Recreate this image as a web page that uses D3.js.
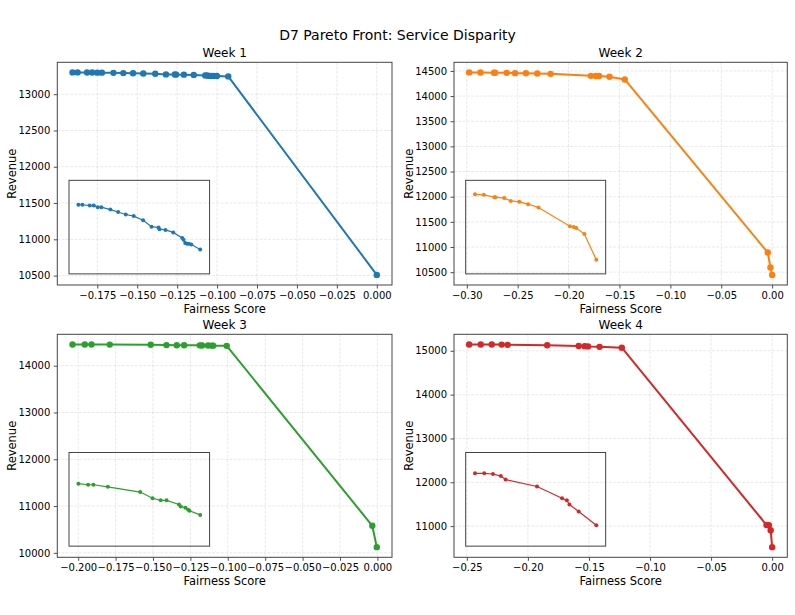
<!DOCTYPE html>
<html>
<head>
<meta charset="utf-8">
<script src="https://cdn.jsdelivr.net/npm/d3@7"></script>
<style>
  body { margin: 0; background: #fff; }
  text { font-family: "DejaVu Sans", sans-serif; fill: #000; }
</style>
</head>
<body>
<svg id="chart" width="795" height="615"></svg>
<script>
// ---------------- DATA ----------------
const weekTitles = ["Week 1", "Week 2", "Week 3", "Week 4"];
const seriesColors = ["#1f77b4", "#ff7f0e", "#2ca02c", "#d62728"];

const week1X = [-0.1905, -0.1873, -0.1814, -0.1782, -0.1750, -0.1721, -0.1649, -0.1587, -0.1526, -0.1462,
                -0.1387, -0.1320, -0.1264, -0.1256, -0.1208, -0.1146, -0.1074, -0.1063, -0.1050, -0.1036,
                -0.1021, -0.1001, -0.0930, 0.0000];
const week1Y = [13300, 13300, 13299, 13299, 13297, 13297, 13294, 13291, 13288, 13286,
                13281, 13273, 13272, 13270, 13269, 13266, 13259, 13257, 13253, 13252,
                13252, 13251, 13245, 10510];

const week2X = [-0.2977, -0.2866, -0.2732, -0.2722, -0.2608, -0.2526, -0.2419, -0.2308, -0.2177,
                -0.1781, -0.1732, -0.1700, -0.1598, -0.1448, -0.0043, -0.0017, 0.0000];
const week2Y = [14470, 14469, 14464, 14464, 14462, 14456, 14454, 14449, 14442,
                14402, 14400, 14398, 14385, 14330, 10890, 10592, 10446];

const week3X = [-0.2038, -0.1956, -0.1911, -0.1789, -0.1515, -0.1410, -0.1341, -0.1292, -0.1187,
                -0.1172, -0.1132, -0.1109, -0.1098, -0.1007, -0.0034, -0.0004];
const week3Y = [14455, 14454, 14454, 14452, 14447, 14441, 14439, 14439, 14435,
                14433, 14432, 14430, 14429, 14425, 10578, 10121];

const week4X = [-0.2481, -0.2386, -0.2296, -0.2215, -0.2166, -0.1842, -0.1584, -0.1535, -0.1508,
                -0.1413, -0.1231, -0.0046, -0.0027, -0.0012, 0.0000];
const week4Y = [15145, 15145, 15144, 15141, 15136, 15126, 15109, 15106, 15100,
                15090, 15070, 11025, 11020, 10905, 10520];

const xTicks = [
  [-0.175, -0.150, -0.125, -0.100, -0.075, -0.050, -0.025, 0.000],
  [-0.30, -0.25, -0.20, -0.15, -0.10, -0.05, 0.00],
  [-0.200, -0.175, -0.150, -0.125, -0.100, -0.075, -0.050, -0.025, 0.000],
  [-0.25, -0.20, -0.15, -0.10, -0.05, 0.00]
];
const xTickDecimals = [3, 2, 3, 2];
const yTicks = [
  [10500, 11000, 11500, 12000, 12500, 13000],
  [10500, 11000, 11500, 12000, 12500, 13000, 13500, 14000, 14500],
  [10000, 11000, 12000, 13000, 14000],
  [11000, 12000, 13000, 14000, 15000]
];
const insetCutoff = -0.05;   // points left of this are shown in the inset

const suptitle = "D7 Pareto Front: Service Disparity";
const xLabel = "Fairness Score";
const yLabel = "Revenue";

// ---------------- LAYOUT ----------------
const svg = d3.select("#chart");
const weeksX = [week1X, week2X, week3X, week4X];
const weeksY = [week1Y, week2Y, week3Y, week4Y];
const boxes = [
  {left: 57.3, right: 392.0, top: 62.3, bottom: 285.0},
  {left: 454.0, right: 787.3, top: 62.3, bottom: 285.0},
  {left: 57.3, right: 392.0, top: 334.3, bottom: 557.3},
  {left: 454.0, right: 787.3, top: 334.3, bottom: 557.3}
];

svg.append("text")
  .attr("x", 397.5).attr("y", 40)
  .attr("text-anchor", "middle")
  .style("font-size", "14px")
  .text(suptitle);

const minus = s => s.replace(/-/g, "\u2212");

function padded(ext, frac) {
  const r = ext[1] - ext[0];
  return [ext[0] - r * frac, ext[1] + r * frac];
}

weeksX.forEach((xs, i) => {
  const ys = weeksY[i];
  const b = boxes[i];
  const color = seriesColors[i];
  const pts = xs.map((x, j) => ({x, y: ys[j]}));

  const x = d3.scaleLinear().domain(padded(d3.extent(xs), 0.05)).range([b.left, b.right]);
  const y = d3.scaleLinear().domain(padded(d3.extent(ys), 0.05)).range([b.bottom, b.top]);

  const g = svg.append("g");

  // grid
  g.append("g").selectAll("line").data(xTicks[i]).join("line")
    .attr("x1", d => x(d)).attr("x2", d => x(d))
    .attr("y1", b.top).attr("y2", b.bottom)
    .attr("stroke", "#b0b0b0").attr("stroke-opacity", 0.35)
    .attr("stroke-width", 0.8).attr("stroke-dasharray", "3,1.3");
  g.append("g").selectAll("line").data(yTicks[i]).join("line")
    .attr("x1", b.left).attr("x2", b.right)
    .attr("y1", d => y(d)).attr("y2", d => y(d))
    .attr("stroke", "#b0b0b0").attr("stroke-opacity", 0.35)
    .attr("stroke-width", 0.8).attr("stroke-dasharray", "3,1.3");

  // axes
  const fmtX = d => minus(d.toFixed(xTickDecimals[i]));
  const xAxis = d3.axisBottom(x).tickValues(xTicks[i]).tickFormat(fmtX)
    .tickSize(3.5).tickPadding(3.5);
  const yAxis = d3.axisLeft(y).tickValues(yTicks[i]).tickFormat(d => String(d))
    .tickSize(3.5).tickPadding(3.5);

  const gx = g.append("g").attr("transform", `translate(0,${b.bottom})`).call(xAxis);
  const gy = g.append("g").attr("transform", `translate(${b.left},0)`).call(yAxis);
  [gx, gy].forEach(a => {
    a.select(".domain").remove();
    a.selectAll(".tick line").attr("stroke", "#222").attr("stroke-width", 0.8);
    a.selectAll(".tick text").style("font-size", "10px").style("font-family", "DejaVu Sans, sans-serif").attr("fill", "#000");
  });

  // main line and markers
  const line = d3.line().x(d => x(d.x)).y(d => y(d.y));
  g.append("path").datum(pts)
    .attr("d", line).attr("fill", "none")
    .attr("stroke", color).attr("stroke-width", 2).attr("stroke-linejoin", "round");
  g.append("g").selectAll("circle").data(pts).join("circle")
    .attr("cx", d => x(d.x)).attr("cy", d => y(d.y)).attr("r", 3.2)
    .attr("fill", color);

  // frame
  g.append("rect")
    .attr("x", b.left).attr("y", b.top)
    .attr("width", b.right - b.left).attr("height", b.bottom - b.top)
    .attr("fill", "none").attr("stroke", "#444").attr("stroke-width", 1);

  // titles / labels
  g.append("text")
    .attr("x", (b.left + b.right) / 2).attr("y", b.top - 5.5)
    .attr("text-anchor", "middle").style("font-size", "12px")
    .text(weekTitles[i]);
  g.append("text")
    .attr("x", (b.left + b.right) / 2).attr("y", b.bottom + 27.5)
    .attr("text-anchor", "middle").style("font-size", "11.5px")
    .text(xLabel);
  g.append("text")
    .attr("transform", `translate(${b.left - 41.5},${(b.top + b.bottom) / 2}) rotate(-90)`)
    .attr("text-anchor", "middle").style("font-size", "11.5px")
    .text(yLabel);

  // inset
  const W = b.right - b.left, H = b.bottom - b.top;
  const ib = {
    left: b.left + 0.035 * W,
    right: b.left + 0.035 * W + 0.42 * W,
    bottom: b.bottom - 0.05 * H,
    top: b.bottom - 0.05 * H - 0.42 * H
  };
  const ipts = pts.filter(d => d.x < insetCutoff);
  const ixe = d3.extent(ipts, d => d.x);
  const iye = d3.extent(ipts, d => d.y);
  const ix = d3.scaleLinear().domain(padded(ixe, 0.077)).range([ib.left, ib.right]);
  const iy = d3.scaleLinear().domain([iye[0] - 30, iye[1] + 30]).range([ib.bottom, ib.top]);

  g.append("path").datum(ipts)
    .attr("d", d3.line().x(d => ix(d.x)).y(d => iy(d.y)))
    .attr("fill", "none").attr("stroke", color).attr("stroke-width", 1.2);
  g.append("g").selectAll("circle").data(ipts).join("circle")
    .attr("cx", d => ix(d.x)).attr("cy", d => iy(d.y)).attr("r", 2)
    .attr("fill", color);
  g.append("rect")
    .attr("x", ib.left).attr("y", ib.top)
    .attr("width", ib.right - ib.left).attr("height", ib.bottom - ib.top)
    .attr("fill", "none").attr("stroke", "#444").attr("stroke-width", 1);
});
</script>
</body>
</html>
